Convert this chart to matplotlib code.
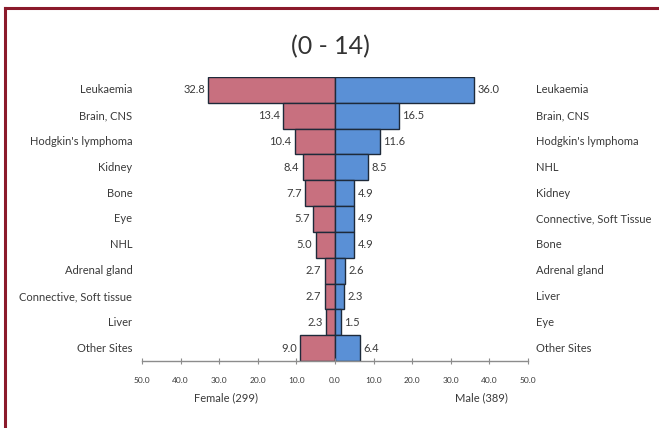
import matplotlib
matplotlib.use("Agg")
import matplotlib.pyplot as plt
from matplotlib.lines import Line2D

plt.rcParams['font.family'] = ['Lato', 'DejaVu Sans']

female_sites = ["Leukaemia", "Brain, CNS", "Hodgkin's lymphoma", "Kidney", "Bone", "Eye",
                "NHL", "Adrenal gland", "Connective, Soft tissue", "Liver", "Other Sites"]
female_values = [32.8, 13.4, 10.4, 8.4, 7.7, 5.7, 5.0, 2.7, 2.7, 2.3, 9.0]

male_sites = ["Leukaemia", "Brain, CNS", "Hodgkin's lymphoma", "NHL", "Kidney",
              "Connective, Soft Tissue", "Bone", "Adrenal gland", "Liver", "Eye", "Other Sites"]
male_values = [36.0, 16.5, 11.6, 8.5, 4.9, 4.9, 4.9, 2.6, 2.3, 1.5, 6.4]

tick_values = [-50, -40, -30, -20, -10, 0, 10, 20, 30, 40, 50]
title = "(0 - 14)"
female_label = "Female (299)"
male_label = "Male (389)"

W, H = 659, 428
fig = plt.figure(figsize=(W / 100, H / 100), dpi=100)
fig.patch.set_facecolor("white")

# frame lines along top and left
fig.add_artist(Line2D([5 / W, 5 / W], [0, 1 - 8 / H], color="#8B1A2B", lw=2.2))
fig.add_artist(Line2D([5 / W, 1], [1 - 8 / H, 1 - 8 / H], color="#8B1A2B", lw=2.2))

ax_left, ax_right = 142 / W, 528 / W
ax_top, ax_bot = 1 - 77 / H, 1 - 361 / H
ax = fig.add_axes([ax_left, ax_bot, ax_right - ax_left, ax_top - ax_bot])

pink = "#C8707F"
blue = "#5A90D6"
edge = "#1E2A3A"
txt = "#3A3A3A"

n = len(female_values)
ys = list(range(n))
ax.barh(ys, [-v for v in female_values], height=1.0, color=pink, edgecolor=edge, linewidth=1.0)
ax.barh(ys, male_values, height=1.0, color=blue, edgecolor=edge, linewidth=1.0)

ax.set_xlim(-50, 50)
ax.set_ylim(n - 0.5, -0.5)

for y, v in zip(ys, female_values):
    ax.text(-v - 0.9, y, f"{v:.1f}", ha="right", va="center", fontsize=8, color=txt)
for y, v in zip(ys, male_values):
    ax.text(v + 0.9, y, f"{v:.1f}", ha="left", va="center", fontsize=8, color=txt)

for y, s in zip(ys, female_sites):
    ax.text(-52.5, y, s, ha="right", va="center", fontsize=8, color=txt)
for y, s in zip(ys, male_sites):
    ax.text(52.0, y, s, ha="left", va="center", fontsize=8, color=txt)

for sp in ["top", "left", "right"]:
    ax.spines[sp].set_visible(False)
ax.spines["bottom"].set_color("#8C8C8C")
ax.spines["bottom"].set_linewidth(1.0)
ax.set_yticks([])
ax.set_xticks(tick_values)
ax.set_xticklabels([f"{abs(t):.1f}" for t in tick_values], fontsize=6, color=txt)
ax.tick_params(axis="x", direction="inout", length=5, color="#8C8C8C", pad=9)
ax.set_facecolor("none")

fig.text(330 / W, 1 - 47 / H, title, ha="center", va="center", fontsize=18, color="#333333")
fig.text(226 / W, 1 - 398 / H, female_label, ha="center", va="center", fontsize=8, color=txt)
fig.text(481 / W, 1 - 398 / H, male_label, ha="center", va="center", fontsize=8, color=txt)

fig.savefig("out.png", dpi=100, facecolor="white")
